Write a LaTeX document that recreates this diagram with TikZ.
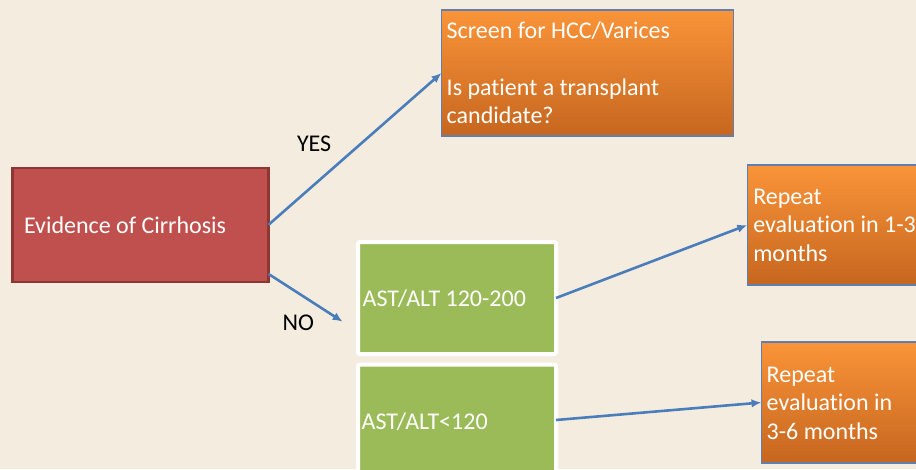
\documentclass[tikz,border=0pt]{standalone}
\usepackage{fontspec}
\setmainfont{Carlito}[Ligatures=NoCommon]
\usetikzlibrary{arrows.meta}

\definecolor{paper}{HTML}{F5ECE0}
\definecolor{redfill}{HTML}{C0504D}
\definecolor{redline}{HTML}{8E3634}
\definecolor{greenfill}{HTML}{9BBB59}
\definecolor{orangetop}{HTML}{FA9439}
\definecolor{orangebot}{HTML}{C6661F}
\definecolor{orangeline}{HTML}{5F7FAE}
\definecolor{arrowblue}{HTML}{4A7EBB}

\tikzset{
  boxbase/.style={rectangle, inner sep=0pt, outer sep=0pt},
  redbox/.style={boxbase, fill=redfill, draw=redline, line width=2.5pt},
  greenbox/.style={boxbase, fill=greenfill, draw=white, line width=4pt, rounded corners=2pt},
  orangebox/.style={boxbase, top color=orangetop, bottom color=orangebot, draw=orangeline, line width=1.4pt},
  boxtext/.style={inner sep=0pt, outer sep=0pt, anchor=base west, text=white,
    font=\fontsize{24}{28.5}\selectfont},
  branchlabel/.style={inner sep=0pt, outer sep=0pt, anchor=base west, text=black,
    font=\fontsize{24}{28.5}\selectfont},
  flow/.style={draw=arrowblue, line width=2.6pt, -{Latex[length=10pt,width=8.5pt]}},
}

\newcommand{\linesof}[2]{\parbox[t]{#1}{\fontsize{24}{28.5}\selectfont\raggedright #2}}

\begin{document}
\begin{tikzpicture}[x=1pt, y=-1pt]
  \useasboundingbox (0,0) rectangle (916,469);
  \fill[paper] (0,0) rectangle (916,469);

  % boxes (centre, width, height in px)
  \node[redbox, minimum width=256pt, minimum height=114pt] (cirrhosis) at (140.5,224.8) {};
  \node[orangebox, minimum width=292pt, minimum height=126pt] (screen) at (587.5,73) {};
  \node[orangebox, minimum width=200pt, minimum height=120pt, anchor=west] (repeatA) at (747.3,225) {};
  \node[orangebox, minimum width=200pt, minimum height=121pt, anchor=west] (repeatB) at (761.5,402.5) {};
  \node[greenbox, minimum width=198pt, minimum height=112pt] (mid) at (457,298) {};
  \node[greenbox, minimum width=198pt, minimum height=111pt] (low) at (457,420) {};

  % box texts
  \node[boxtext] (tcirr) at (24,233) {Evidence of Cirrhosis};
  \node[boxtext] (tscreen) at (446.7,38.3)
    {\linesof{285pt}{Screen for HCC/Varices\\\mbox{}\\Is patient a transplant\\candidate?}};
  \node[boxtext] (trepA) at (753.3,204)
    {\linesof{300pt}{Repeat\\evaluation in 1-3\\months}};
  \node[boxtext] (trepB) at (766.7,382.3)
    {\linesof{160pt}{Repeat\\evaluation in\\3-6 months}};
  \node[boxtext] (tmid) at (362.7,306.7) {AST/ALT 120-200};
  \node[boxtext] (tlow) at (361.7,429) {AST/ALT<120};

  % branch labels
  \node[branchlabel] (yes) at (297,151.7) {YES};
  \node[branchlabel] (no) at (282.7,330.7) {NO};

  % connectors
  \coordinate (noend) at (342.7,321.7);
  \draw[flow] (cirrhosis.east) -- (screen.west);
  \draw[flow] (cirrhosis.-21.3) -- (noend);
  \draw[flow] (mid.east) -- (repeatA.west);
  \draw[flow] (low.east) -- (repeatB.west);
\end{tikzpicture}
\end{document}
